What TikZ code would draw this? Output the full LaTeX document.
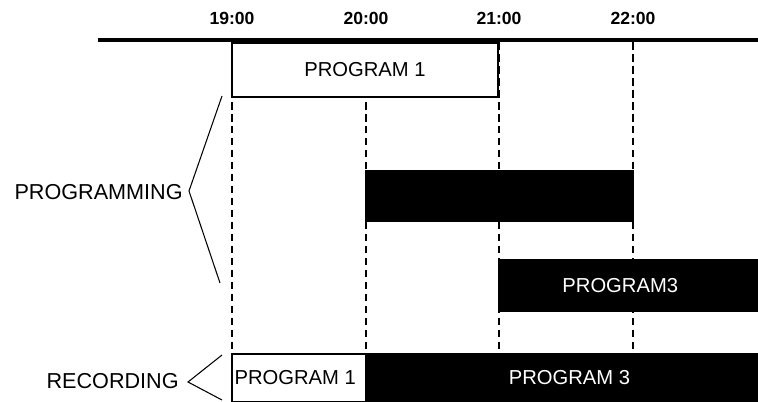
\documentclass[tikz,border=0pt]{standalone}
\usepackage{fontspec}
\setmainfont{Liberation Sans}

\begin{document}
\begin{tikzpicture}[
  slot/.style={rectangle, draw, line width=0.8pt, inner sep=0pt, font=\fontsize{11.5}{13}\selectfont},
  lit/.style={slot, fill=white},
  dark/.style={slot, fill=black, text=white},
  hour/.style={font=\fontsize{10}{12}\selectfont\bfseries},
  tag/.style={anchor=east, inner sep=0pt, font=\fontsize{12.3}{14}\selectfont},
  grid/.style={line width=0.6pt, dash pattern=on 0.15cm off 0.09cm}]
\useasboundingbox (0,0) rectangle (15.16,-8.02);
% Define the time axis
\coordinate (left) at (1.96,-0.80);
\coordinate (right) at (15.16,-0.80);
\node[hour] at (4.64,-0.36) (t19) {19:00};
\node[hour] at (7.32,-0.36) (t20) {20:00};
\node[hour] at (9.98,-0.36) (t21) {21:00};
\node[hour] at (12.66,-0.36) (t22) {22:00};
\draw[line width=2.2pt] (left) -- (right);
% Dashed hour lines
\foreach \t/\x in {19/4.64, 20/7.32, 21/9.98, 22/12.66} {
  \coordinate (top\t) at (\x,-0.84);
  \coordinate (bot\t) at (\x,-8.02);
  \draw[grid] (top\t) -- (bot\t);
}
% Define the programs
\node[lit, minimum width=5.32cm, minimum height=1.08cm] at (7.30,-1.40) (p1) {PROGRAM 1};
\node[dark, minimum width=5.34cm, minimum height=1.00cm] at (9.99,-3.92) (p2) {};
\node[dark, minimum width=5.20cm, minimum height=1.02cm] at (12.58,-5.71) (p3) {\hspace*{-0.35cm}PROGRAM3};
\node[lit, minimum width=2.68cm, minimum height=0.96cm] at (5.98,-7.56) (r1) {\hspace*{-0.15cm}PROGRAM 1};
\node[dark, minimum width=7.84cm, minimum height=0.96cm] at (11.24,-7.56) (r3) {\hspace*{0.3cm}PROGRAM 3};
% Labels and brackets
\node[tag] at (3.66,-3.84) (prog) {PROGRAMMING};
\node[tag] at (3.58,-7.62) (rec) {RECORDING};
\coordinate (pa) at (4.44,-1.92);
\coordinate (pb) at (3.78,-3.82);
\coordinate (pc) at (4.40,-5.66);
\draw[line width=0.6pt] (pa) -- (pb) -- (pc);
\coordinate (ra) at (4.44,-7.10);
\coordinate (rb) at (3.76,-7.64);
\coordinate (rc) at (4.44,-8.00);
\draw[line width=0.6pt] (ra) -- (rb) -- (rc);
\end{tikzpicture}
\end{document}
